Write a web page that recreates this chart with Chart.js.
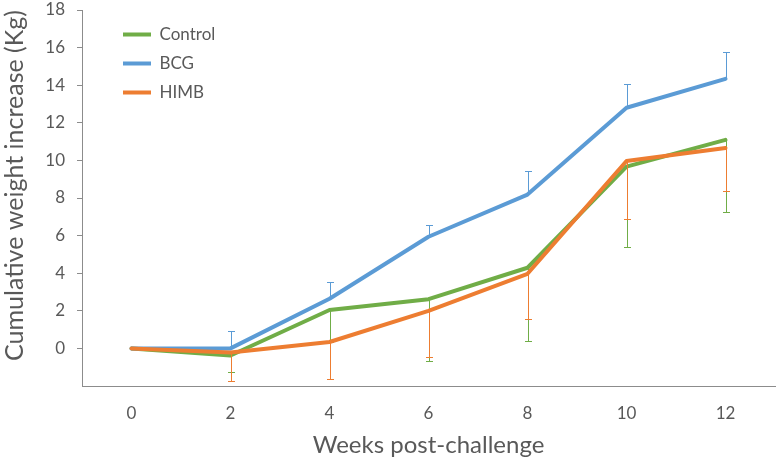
<!DOCTYPE html>
<html>
<head>
<meta charset="utf-8">
<script src="https://cdn.jsdelivr.net/npm/chart.js@4.4.1/dist/chart.umd.min.js"></script>
<style>
  html, body { margin: 0; padding: 0; background: #ffffff; }
  #wrap { width: 776px; height: 460px; position: relative; }
</style>
</head>
<body>
<div id="wrap"><canvas id="c" width="776" height="460"></canvas></div>
<script>
// ---- data ----
const weeks = ['0', '2', '4', '6', '8', '10', '12'];
const seriesNames = ['Control', 'BCG', 'HIMB'];
const controlValues = [0, -0.38, 2.04, 2.62, 4.29, 9.67, 11.09];
const bcgValues     = [0, 0.0, 2.64, 5.94, 8.18, 12.8, 14.34];
const himbValues    = [0, -0.22, 0.34, 2.0, 3.97, 9.97, 10.66];
// one-sided error bars (amounts)
const controlErrDown = [0, 0.86, 1.7, 3.3, 3.88, 4.28, 3.85];
const bcgErrUp       = [0, 0.94, 0.91, 0.64, 1.28, 1.29, 1.45];
const himbErrDown    = [0, 1.52, 1.97, 2.45, 2.41, 3.09, 2.3];
const yTickMin = -2, yTickMax = 18, yTickStep = 2;

const GREEN = '#70AD47', BLUE = '#5B9BD5', ORANGE = '#ED7D31';
const TEXT = '#595959', AXIS = '#8C8C8C';
const FONT = 'Lato, "Open Sans", sans-serif';

const errorBarPlugin = {
  id: 'errorBars',
  afterDatasetDraw(chart, args) {
    const ds = chart.data.datasets[args.index];
    if (!ds.errUp && !ds.errDown) return;
    const meta = args.meta;
    const y = chart.scales.y;
    const ctx = chart.ctx;
    ctx.save();
    ctx.strokeStyle = ds.borderColor;
    ctx.lineWidth = 1;
    meta.data.forEach((pt, i) => {
      const v = ds.data[i];
      const up = ds.errUp ? ds.errUp[i] : 0;
      const dn = ds.errDown ? ds.errDown[i] : 0;
      if (!up && !dn) return;
      const x = Math.round(pt.x) + 0.5;
      const y0 = y.getPixelForValue(v);
      const yEnd = y.getPixelForValue(up ? v + up : v - dn);
      const yc = Math.round(yEnd) + 0.5;
      ctx.beginPath();
      ctx.moveTo(x, y0);
      ctx.lineTo(x, yc);
      ctx.moveTo(x - 3.5, yc);
      ctx.lineTo(x + 3.5, yc);
      ctx.stroke();
    });
    ctx.restore();
  }
};

// place the in-plot legend at the top-left of the plot like the original
const legendPlacePlugin = {
  id: 'legendPlace',
  afterLayout(chart) {
    const lg = chart.legend;
    if (!lg) return;
    const w = lg.width, h = lg.height;
    lg.left = 111; lg.top = 14;
    lg.right = lg.left + w; lg.bottom = lg.top + h;
    if (lg.adjustHitBoxes) lg.adjustHitBoxes();
  }
};

function mkDataset(label, data, color, order, extra) {
  return Object.assign({
    label, data,
    borderColor: color, backgroundColor: color,
    borderWidth: 4, pointRadius: 0, pointHoverRadius: 0,
    borderJoinStyle: 'round', borderCapStyle: 'round',
    tension: 0, fill: false, order
  }, extra);
}

new Chart(document.getElementById('c'), {
  type: 'line',
  data: {
    labels: weeks,
    datasets: [
      mkDataset(seriesNames[0], controlValues, GREEN, 3, { errDown: controlErrDown }),
      mkDataset(seriesNames[1], bcgValues, BLUE, 2, { errUp: bcgErrUp }),
      mkDataset(seriesNames[2], himbValues, ORANGE, 1, { errDown: himbErrDown })
    ]
  },
  plugins: [errorBarPlugin, legendPlacePlugin],
  options: {
    responsive: false,
    animation: false,
    events: [],
    layout: { padding: { top: 10, right: 1, left: 0, bottom: 0 } },
    plugins: {
      tooltip: { enabled: false },
      legend: {
        position: 'chartArea',
        align: 'start',
        labels: {
          color: TEXT,
          font: { family: FONT, size: 17 },
          boxWidth: 28,
          boxHeight: 4,
          padding: 12,
          generateLabels(chart) {
            return chart.data.datasets.map((d, i) => ({
              text: d.label, fillStyle: d.borderColor, strokeStyle: d.borderColor,
              lineWidth: 0, datasetIndex: i, fontColor: TEXT
            }));
          }
        }
      }
    },
    scales: {
      x: {
        type: 'category',
        offset: true,
        grid: { display: false, drawTicks: false },
        border: { display: true, color: AXIS, width: 1 },
        ticks: { color: TEXT, font: { family: FONT, size: 17 }, padding: 17, maxRotation: 0 },
        title: { display: true, text: 'Weeks post-challenge', color: TEXT,
                 font: { family: FONT, size: 24 }, padding: { top: 0, bottom: 0 } },
        afterFit(scale) { scale.height = 74; scale.paddingLeft = 0; scale.paddingRight = 0; }
      },
      y: {
        min: yTickMin, max: yTickMax,
        ticks: {
          stepSize: yTickStep, color: TEXT, font: { family: FONT, size: 17 }, padding: 12,
          callback: (v) => (v < 0 ? '' : v)
        },
        grid: {
          drawOnChartArea: false, drawTicks: true, tickLength: 5,
          color: (ctx) => (ctx.tick && ctx.tick.value < 0 ? 'rgba(0,0,0,0)' : AXIS)
        },
        border: { display: true, color: AXIS, width: 1 },
        title: { display: true, text: 'Cumulative weight increase (Kg)', color: TEXT, align: 'end',
                 font: { family: FONT, size: 25 }, padding: { top: 0, bottom: 0 } },
        afterFit(scale) { scale.width = 82; scale.paddingTop = 0; scale.paddingBottom = 0; }
      }
    }
  }
});
</script>
</body>
</html>
